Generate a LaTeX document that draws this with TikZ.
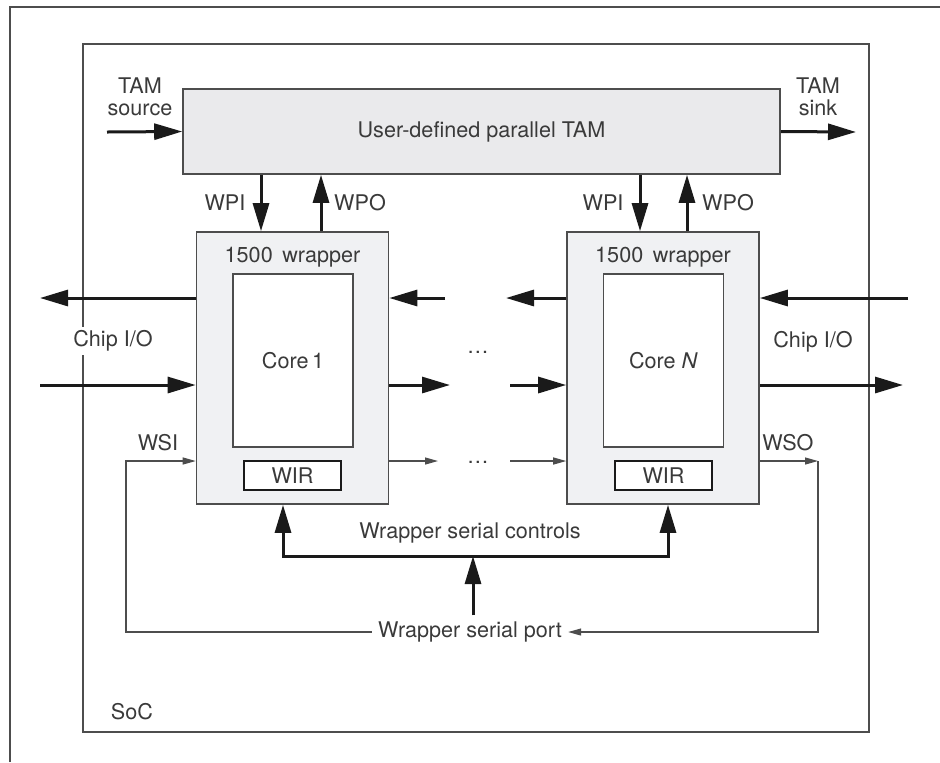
\documentclass[tikz,border=0pt]{standalone}
\usepackage{fontspec}
\setmainfont{TeX Gyre Heros}
\usepackage{xcolor}
\usetikzlibrary{arrows.meta,positioning,calc}
\definecolor{linegray}{HTML}{4D4D4D}
\definecolor{arrowblack}{HTML}{1A1A1A}
\definecolor{textgray}{HTML}{3A3A3A}
\definecolor{tamfill}{HTML}{EAEAEC}
\definecolor{wrapfill}{HTML}{F0F1F3}
\newcommand{\diagfont}{\fontsize{10.8}{13}\selectfont}
\tikzset{
	box/.style={draw=linegray, line width=0.8pt, inner sep=0pt, text=textgray},
	bigarrow/.style={-{Triangle[length=14pt,width=8pt]}, line width=1.5pt, draw=arrowblack},
	bigboth/.style={{Triangle[length=14pt,width=8pt]}-{Triangle[length=14pt,width=8pt]}, line width=1.5pt, draw=arrowblack},
	thinarrow/.style={-{Triangle[length=6.5pt,width=3.5pt]}, line width=0.6pt, draw=linegray},
	thinline/.style={line width=0.6pt, draw=linegray},
	lbl/.style={text=textgray, inner sep=2pt, align=center}
}

\begin{document}
\begin{tikzpicture}[
			x=0.5pt, y=-0.5pt, font=\diagfont,
			wrapbox/.style={box, fill=wrapfill, minimum width=96pt, minimum height=136pt},
			corebox/.style={box, fill=white, minimum width=60pt, minimum height=86.5pt},
			wirbox/.style={box, draw=arrowblack, line width=1pt, fill=white,
				minimum width=48.5pt, minimum height=14.5pt}
			]
			\useasboundingbox (0,0) rectangle (940,762);
			
			%% -- outer frame (cut off at right and bottom)
			\draw[linegray, line width=0.7pt] (10,762) -- (10,7) -- (940,7);
			
			%% -- SoC
			\node[box, minimum width=393pt, minimum height=344pt] (soc) at (476,388) {};
			\node[lbl] (soclabel) at (132,712) {SoC};
			
			%% -- parallel TAM
			\node[box, fill=tamfill, minimum width=298.5pt, minimum height=42.5pt]
			(tam) at (481.5,131.5) {User-defined parallel TAM};
			\node[lbl] (srclabel) at (140,97) {TAM\\[-2pt]source};
			\node[lbl] (sinklabel) at (818,97) {TAM\\[-2pt]sink};
			\coordinate (src) at (107,132);
			\coordinate (sink) at (856,132);
			\draw[bigarrow] (src) -- (tam.west);
			\draw[bigarrow] (tam.east) -- (sink);
			
			%% -- wrapped cores
			\node[wrapbox] (wrap1) at (292.5,368) {};
			\node[wrapbox] (wrapN) at (663,368) {};
			\node[lbl] (title1) at (292.5,257) {1500\, wrapper};
			\node[lbl] (titleN) at (663,257) {1500\, wrapper};
			\node[corebox] (core1) at (293,360.5) {Core\,1};
			\node[corebox] (coreN) at (663.5,360.5) {Core \textit{N}};
			\node[wirbox] (wir1) at (292.5,475.5) {WIR};
			\node[wirbox] (wirN) at (663.5,475.5) {WIR};
			
			%% -- WPI / WPO
			\coordinate (wpi1) at (261,0);
			\coordinate (wpo1) at (321,0);
			\coordinate (wpiN) at (640,0);
			\coordinate (wpoN) at (687,0);
			\draw[bigarrow] (wpi1 |- tam.south) -- (wpi1 |- wrap1.north);
			\draw[bigarrow] (wpo1 |- wrap1.north) -- (wpo1 |- tam.south);
			\draw[bigarrow] (wpiN |- tam.south) -- (wpiN |- wrapN.north);
			\draw[bigarrow] (wpoN |- wrapN.north) -- (wpoN |- tam.south);
			\node[lbl] (wpi1label) at (225,203) {WPI};
			\node[lbl] (wpo1label) at (360,203) {WPO};
			\node[lbl] (wpiNlabel) at (603,203) {WPI};
			\node[lbl] (wpoNlabel) at (728,203) {WPO};
			
			%% -- functional rows
			\coordinate (rowout) at (0,298);
			\coordinate (rowin) at (0,385);
			\coordinate (rowscan) at (0,461);
			
			% left chip I/O
			\draw[bigarrow] (wrap1.west |- rowout) -- (40,298);
			\draw[bigarrow] (40,385) -- (wrap1.west |- rowin);
			\node[lbl, fill=white] (io1) at (113,341) {Chip I/O};
			
			% between the cores
			\draw[bigarrow] (445,298) -- (wrap1.east |- rowout);
			\draw[bigarrow] (wrap1.east |- rowin) -- (450,385);
			\draw[bigarrow] (wrapN.west |- rowout) -- (506,298);
			\draw[bigarrow] (510,385) -- (wrapN.west |- rowin);
			\node[inner sep=0pt, text=textgray] (dots1) at (478,352) {\ldots};
			
			% right chip I/O
			\draw[bigarrow] (908,298) -- (wrapN.east |- rowout);
			\draw[bigarrow] (wrapN.east |- rowin) -- (903,385);
			\node[lbl] (ioN) at (813,342) {Chip I/O};
			
			%% -- wrapper serial port
			\node[lbl, inner sep=3pt] (port) at (470,632) {Wrapper serial port};
			\coordinate (wsil) at (126,461);
			\coordinate (wsor) at (818,461);
			\draw[thinarrow] (port.west) -| (wsil) -- (wsil -| wrap1.west);
			\draw[thinarrow] (wrapN.east |- rowscan) -- (wsor);
			\draw[thinarrow] (wsor) |- (port.east);
			\draw[thinarrow] (wrap1.east |- rowscan) -- (438,461);
			\draw[thinarrow] (510,461) -- (wrapN.west |- rowscan);
			\node[inner sep=0pt, text=textgray] (dots2) at (478,462) {\ldots};
			\node[lbl] (wsilabel) at (158,443) {WSI};
			\node[lbl] (wsolabel) at (788,443) {WSO};
			
			%% -- wrapper serial controls
			\coordinate (ctl1) at (283,556);
			\coordinate (ctlN) at (668,556);
			\coordinate (ctlbus) at (473,556);
			\draw[bigboth] (ctl1 |- wrap1.south) -- (ctl1) -- (ctlN) -- (ctlN |- wrapN.south);
			\draw[bigarrow] (port.north -| ctlbus) -- (ctlbus);
			\node[lbl] (ctllabel) at (470,533) {Wrapper serial controls};
			
		\end{tikzpicture}
\end{document}
